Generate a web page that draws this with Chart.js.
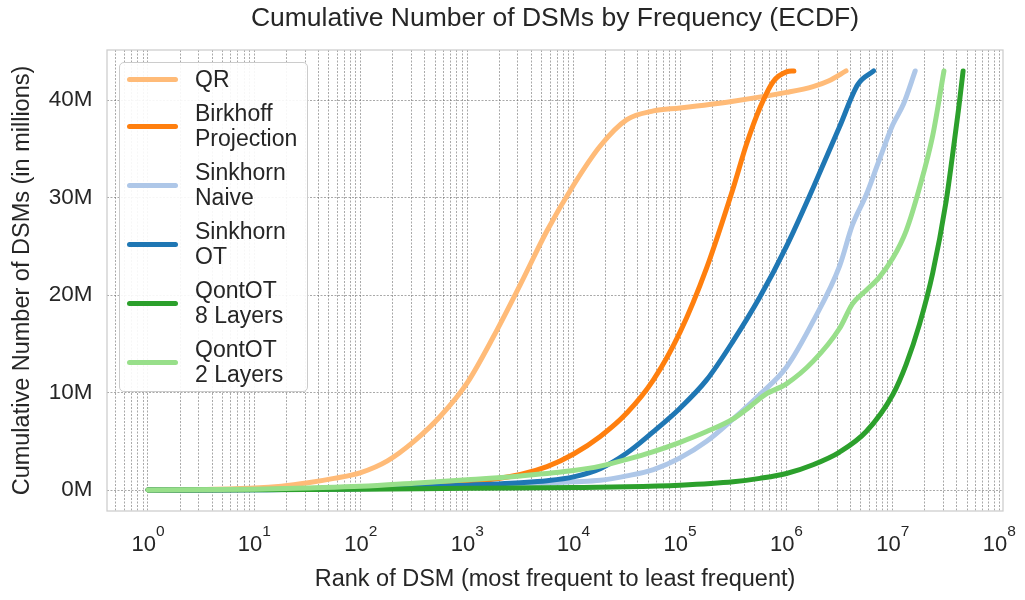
<!DOCTYPE html>
<html>
<head>
<meta charset="utf-8">
<script src="https://cdn.jsdelivr.net/npm/chart.js@4.4.1/dist/chart.umd.min.js"></script>
<style>
  html, body { margin: 0; padding: 0; background: #ffffff; }
  #wrap { position: relative; width: 1025px; height: 600px; }
  #legend {
    position: absolute; left: 119px; top: 62px; width: 189px;
    box-sizing: border-box; padding: 4px 0 4px 0;
    border: 1px solid #cccccc; border-radius: 5px;
    background: rgba(255, 255, 255, 0.9);
    font-family: "Liberation Sans", Arial, sans-serif; color: #262626;
  }
  #legend .item { display: flex; align-items: center; margin-top: 9px; }
  #legend .item:first-child { margin-top: 0; }
  #legend .swatch { display: block; width: 51px; height: 5px; border-radius: 2.5px; margin-left: 7px; flex: none; }
  #legend .label { margin-left: 17px; font-size: 23px; line-height: 25px; white-space: pre-line; }
</style>
</head>
<body>
<div id="wrap">
  <canvas id="chart" width="1025" height="600"></canvas>
  <div id="legend"></div>
</div>
<script>
// ECDF samples: rank of DSM and cumulative count (millions)
const qrRank        = [1, 3, 10, 18, 32, 56, 100, 178, 316, 562, 1000, 1778, 3162, 5623, 10000, 17783, 31623, 56234, 100000, 316228, 1000000, 1778279, 2511886, 3630781];
const qrCount       = [0, 0.05, 0.2, 0.4, 0.75, 1.2, 1.8, 3.0, 5.0, 7.6, 11.0, 15.8, 21.1, 26.6, 31.3, 35.3, 38.0, 38.9, 39.2, 39.9, 40.8, 41.4, 42.0, 43.0];

const birkhoffRank  = [1, 10, 100, 1000, 3162, 5623, 10000, 17783, 31623, 56234, 100000, 177828, 316228, 421697, 562341, 749894, 1000000, 1174898];
const birkhoffCount = [0, 0.05, 0.2, 0.8, 1.6, 2.4, 3.7, 5.5, 7.9, 11.3, 16.2, 22.8, 31.0, 35.5, 39.2, 41.9, 42.9, 43.0];

const naiveRank     = [1, 10, 100, 1000, 3162, 10000, 17783, 31623, 56234, 100000, 177828, 316228, 562341, 1000000, 1778279, 3162278, 4168694, 5623413, 7413102, 10000000, 12589254, 16218101];
const naiveCount    = [0, 0.03, 0.12, 0.4, 0.6, 0.85, 1.0, 1.45, 2.1, 3.3, 5.0, 7.3, 9.8, 12.6, 17.3, 23.0, 27.2, 30.3, 33.8, 37.5, 39.6, 43.0];

const otRank        = [1, 10, 100, 1000, 3162, 5623, 10000, 17783, 31623, 56234, 100000, 177828, 316228, 562341, 1000000, 1778279, 3162278, 4677351, 6606934];
const otCount       = [0, 0.03, 0.15, 0.5, 0.75, 0.95, 1.35, 2.2, 3.8, 6.0, 8.4, 11.3, 15.3, 19.8, 25.0, 31.0, 37.3, 41.6, 43.0];

const q8Rank        = [1, 10, 100, 1000, 10000, 31623, 100000, 316228, 562341, 1000000, 1778279, 3162278, 5623413, 10000000, 13335214, 17782794, 23713737, 31622777, 36307805, 41686938, 45708819];
const q8Count       = [0, 0.02, 0.08, 0.18, 0.26, 0.33, 0.5, 0.85, 1.2, 1.7, 2.6, 3.9, 6.0, 9.8, 12.9, 17.0, 22.3, 29.6, 34.3, 39.3, 43.0];

const q2Rank        = [1, 10, 32, 100, 316, 1000, 3162, 10000, 17783, 31623, 56234, 100000, 177828, 316228, 446684, 630957, 1000000, 1778279, 3162278, 4168694, 5623413, 7413102, 10000000, 13335214, 17782794, 23713737, 30199517];
const q2Count       = [0, 0.08, 0.22, 0.38, 0.7, 1.05, 1.45, 2.0, 2.45, 3.15, 3.95, 4.9, 6.0, 7.3, 8.5, 9.8, 10.9, 13.2, 16.6, 19.1, 20.5, 21.8, 23.8, 26.6, 31.0, 36.4, 43.0];

const seriesLabels = ['QR', 'Birkhoff\nProjection', 'Sinkhorn\nNaive', 'Sinkhorn\nOT', 'QontOT\n8 Layers', 'QontOT\n2 Layers'];
const seriesColors = ['#ffbb78', '#ff7f0e', '#aec7e8', '#1f77b4', '#2ca02c', '#98df8a'];
const seriesRanks  = [qrRank, birkhoffRank, naiveRank, otRank, q8Rank, q2Rank];
const seriesCounts = [qrCount, birkhoffCount, naiveCount, otCount, q8Count, q2Count];

// axis ticks
const decadeExponents = [0, 1, 2, 3, 4, 5, 6, 7, 8];
const yTickValues = [0, 10, 20, 30, 40];
const xMin = Math.pow(10, -0.385);
const xMax = Math.pow(10, 8.035);

const titleText  = 'Cumulative Number of DSMs by Frequency (ECDF)';
const xTitleText = 'Rank of DSM (most frequent to least frequent)';
const yTitleText = 'Cumulative Number of DSMs (in millions)';

const FONT = '"Liberation Sans", Arial, sans-serif';
const TEXT = '#262626';
const GRID = 'rgba(110,110,110,0.75)';

// every 1..9 multiple of each decade inside the axis range gets a grid line
const xGridValues = [];
for (let e = -1; e <= 8; e++) {
  for (let k = 1; k <= 9; k++) {
    const v = k * Math.pow(10, e);
    if (v >= xMin && v <= xMax) xGridValues.push(v);
  }
}

const datasets = seriesLabels.map((label, i) => ({
  label,
  data: seriesRanks[i].map((r, j) => ({ x: r, y: seriesCounts[i][j] })),
  borderColor: seriesColors[i],
  backgroundColor: seriesColors[i],
  borderWidth: 5,
  borderCapStyle: 'round',
  borderJoinStyle: 'round',
  pointRadius: 0,
  cubicInterpolationMode: 'monotone',
  fill: false,
  order: seriesLabels.length - i
}));

const decorations = {
  id: 'decorations',
  beforeDatasetsDraw(chart) {
    const { ctx, chartArea: a } = chart;
    ctx.save();
    ctx.strokeStyle = '#cccccc';
    ctx.lineWidth = 1.25;
    ctx.strokeRect(a.left, a.top, a.right - a.left, a.bottom - a.top);
    ctx.restore();
  },
  afterDraw(chart) {
    const { ctx, chartArea: a, scales: { x } } = chart;
    ctx.save();
    ctx.fillStyle = TEXT;
    ctx.textAlign = 'left';
    ctx.textBaseline = 'alphabetic';
    const baseSize = 22, supSize = 15.5;
    for (const e of decadeExponents) {
      const px = x.getPixelForValue(Math.pow(10, e));
      ctx.font = baseSize + 'px ' + FONT;
      const wb = ctx.measureText('10').width;
      ctx.font = supSize + 'px ' + FONT;
      const ws = ctx.measureText(String(e)).width;
      const left = px - (wb + ws) / 2;
      ctx.font = baseSize + 'px ' + FONT;
      ctx.fillText('10', left, a.bottom + 39.5);
      ctx.font = supSize + 'px ' + FONT;
      ctx.fillText(String(e), left + wb, a.bottom + 25);
    }
    ctx.font = '26.5px ' + FONT;
    ctx.textAlign = 'center';
    ctx.textBaseline = 'middle';
    ctx.fillText(titleText, (a.left + a.right) / 2, 19);
    ctx.restore();
  }
};

const chart = new Chart(document.getElementById('chart'), {
  type: 'line',
  data: { datasets },
  plugins: [decorations],
  options: {
    responsive: false,
    animation: false,
    layout: { padding: { top: 50, right: 22, left: 0, bottom: 0 } },
    plugins: { legend: { display: false }, title: { display: false }, tooltip: { enabled: false } },
    scales: {
      x: {
        type: 'logarithmic',
        min: xMin,
        max: xMax,
        afterBuildTicks(scale) { scale.ticks = xGridValues.map(v => ({ value: v })); },
        afterFit(scale) { scale.height = 89; },
        ticks: { autoSkip: false, maxRotation: 0, minRotation: 0, padding: 0, callback: () => '' },
        grid: { color: GRID, lineWidth: 0.8, drawTicks: false },
        border: { display: false, dash: [2, 1.5] },
        title: { display: true, text: xTitleText, color: TEXT, font: { family: FONT, size: 23.5 }, padding: { top: 0, bottom: 6 } }
      },
      y: {
        type: 'linear',
        min: -2.15,
        max: 45.15,
        afterBuildTicks(scale) { scale.ticks = yTickValues.map(v => ({ value: v })); },
        afterFit(scale) { scale.width = 107; },
        ticks: { color: TEXT, font: { family: FONT, size: 22.5 }, padding: 14.5, callback: v => v + 'M' },
        grid: { color: GRID, lineWidth: 0.8, drawTicks: false },
        border: { display: false, dash: [2, 1.5] },
        title: { display: true, text: yTitleText, color: TEXT, font: { family: FONT, size: 23.5 }, padding: { top: 8, bottom: 0 } }
      }
    }
  }
});

// legend box inside the plot, built from the datasets
const legendEl = document.getElementById('legend');
chart.data.datasets.forEach(ds => {
  const item = document.createElement('div');
  item.className = 'item';
  const swatch = document.createElement('span');
  swatch.className = 'swatch';
  swatch.style.background = ds.borderColor;
  const text = document.createElement('div');
  text.className = 'label';
  text.textContent = ds.label;
  item.appendChild(swatch);
  item.appendChild(text);
  legendEl.appendChild(item);
});
</script>
</body>
</html>
